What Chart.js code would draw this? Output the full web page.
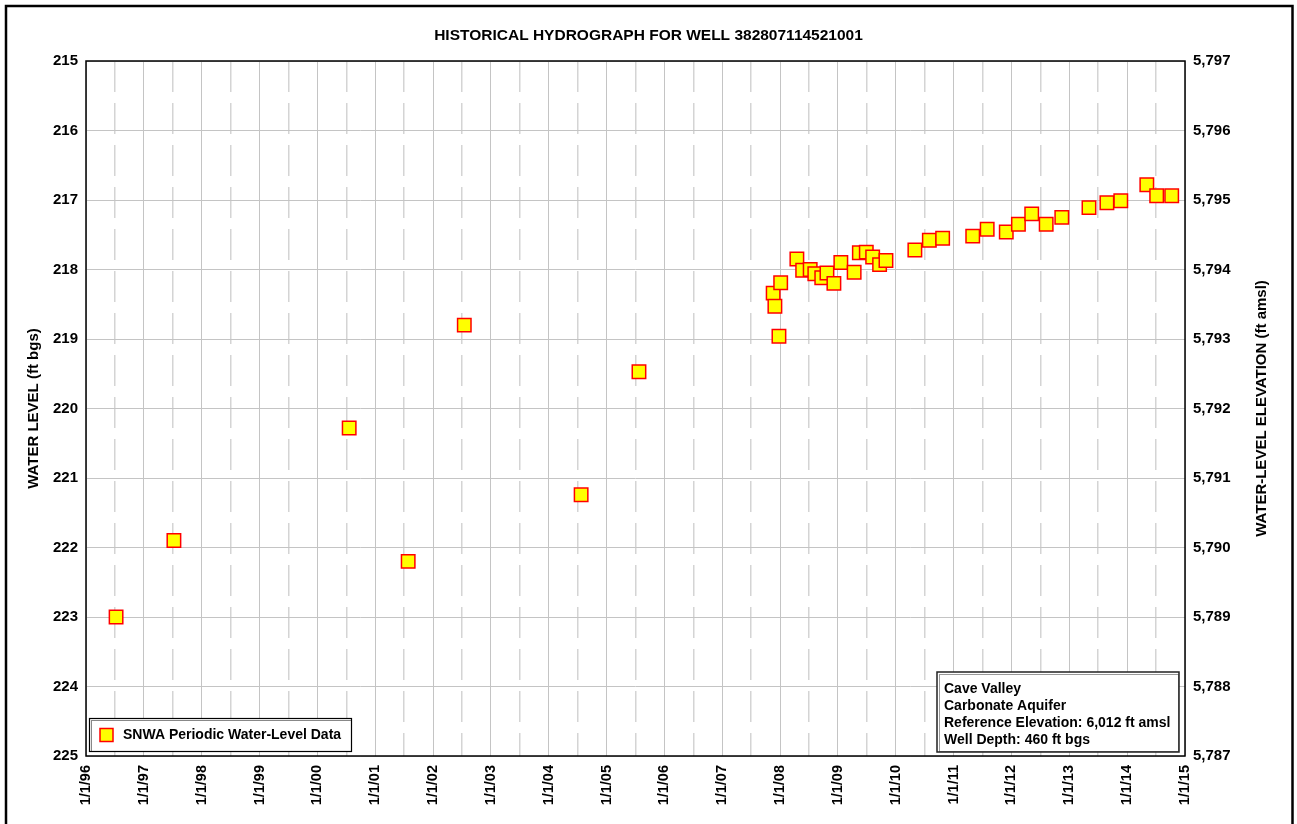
<!DOCTYPE html>
<html>
<head>
<meta charset="utf-8">
<script src="https://cdn.jsdelivr.net/npm/chart.js@4/dist/chart.umd.min.js"></script>
<style>
html,body{margin:0;padding:0;background:#fff;}
canvas{display:block;}
</style>
</head>
<body>
<canvas id="c" width="1297" height="824"></canvas>
<script>
// ---- data (decimal years, water level ft bgs) ----
const sampleDates = [
  1996.52, 1997.52, 2000.55, 2001.57, 2002.54, 2004.56, 2005.56,
  2007.88, 2007.91, 2007.98, 2008.01, 2008.29, 2008.39, 2008.52, 2008.60,
  2008.72, 2008.81, 2008.93, 2009.05, 2009.28, 2009.37, 2009.49, 2009.60,
  2009.72, 2009.83,
  2010.33, 2010.58, 2010.81, 2011.33, 2011.58, 2011.91, 2012.12, 2012.35,
  2012.60, 2012.87, 2013.34, 2013.65, 2013.89, 2014.34, 2014.51, 2014.77
];
const waterLevels = [
  223.00, 221.90, 220.28, 222.20, 218.80, 221.24, 219.47,
  218.34, 218.53, 218.96, 218.19, 217.85, 218.01, 218.00, 218.06,
  218.12, 218.05, 218.20, 217.90, 218.04, 217.76, 217.75, 217.82,
  217.93, 217.87,
  217.72, 217.58, 217.55, 217.52, 217.42, 217.46, 217.35, 217.20,
  217.35, 217.25, 217.11, 217.04, 217.01, 216.78, 216.94, 216.94
];
const yearTicks = [1996,1997,1998,1999,2000,2001,2002,2003,2004,2005,2006,2007,2008,2009,2010,2011,2012,2013,2014,2015];
const midYearTicks = yearTicks.slice(0, -1).map(y => y + 0.5);
const levelRange = [215, 225];
const elevationRange = [5787, 5797];
const titleText = 'HISTORICAL HYDROGRAPH FOR WELL 382807114521001';
const leftTitle = 'WATER LEVEL (ft bgs)';
const rightTitle = 'WATER-LEVEL ELEVATION (ft amsl)';
const seriesName = 'SNWA Periodic Water-Level Data';
const infoLines = ['Cave Valley', 'Carbonate Aquifer', 'Reference Elevation: 6,012 ft amsl', 'Well Depth: 460 ft bgs'];

const FAM = '"Liberation Sans", Arial, Helvetica, sans-serif';
const points = sampleDates.map((d, i) => ({x: d, y: waterLevels[i]}));

const deco = {
  id: 'deco',
  beforeDraw(chart) {
    const ctx = chart.ctx;
    ctx.save();
    ctx.fillStyle = '#fff';
    ctx.fillRect(0, 0, chart.width, chart.height);
    ctx.restore();
  },
  afterDraw(chart) {
    const ctx = chart.ctx;
    const a = chart.chartArea;
    ctx.save();
    // plot border
    ctx.strokeStyle = '#000';
    ctx.lineWidth = 1.5;
    ctx.strokeRect(a.left, a.top, a.right - a.left, a.bottom - a.top);
    // outer frame
    ctx.lineWidth = 2.5;
    ctx.strokeRect(6, 6, 1286.5, 900);

    // right axis title
    const y2 = chart.scales.y2;
    ctx.fillStyle = '#000';
    ctx.font = 'bold 15px ' + FAM;
    ctx.textAlign = 'center';
    ctx.textBaseline = 'middle';
    ctx.translate(1262, (y2.top + y2.bottom) / 2);
    ctx.rotate(-Math.PI / 2);
    ctx.fillText(rightTitle, 0, 0);
    ctx.setTransform(1, 0, 0, 1, 0, 0);

    // legend box
    const lx = a.left + 3, ly = a.bottom - 38, lw = 263, lh = 34;
    ctx.fillStyle = '#fff';
    ctx.fillRect(lx, ly, lw, lh);
    ctx.strokeStyle = '#888';
    ctx.lineWidth = 1;
    ctx.strokeRect(lx + 2.5, ly + 2.5, lw - 3, lh - 3);
    ctx.strokeStyle = '#000';
    ctx.lineWidth = 1.2;
    ctx.strokeRect(lx + 0.5, ly + 0.5, lw - 1, lh - 1);
    const mx = lx + 11, my = ly + 17;
    ctx.fillStyle = '#ffff00';
    ctx.fillRect(mx, my - 6.5, 13, 13);
    ctx.strokeStyle = '#ff0000';
    ctx.lineWidth = 1.5;
    ctx.strokeRect(mx, my - 6.5, 13, 13);
    ctx.fillStyle = '#000';
    ctx.font = 'bold 14px ' + FAM;
    ctx.textAlign = 'left';
    ctx.textBaseline = 'middle';
    ctx.fillText(seriesName, lx + 34, my);

    // info box
    const bx = 937, by = a.bottom - 84, bw = a.right - 6 - bx, bh = 80;
    ctx.fillStyle = '#fff';
    ctx.fillRect(bx, by, bw, bh);
    ctx.strokeStyle = '#999';
    ctx.lineWidth = 1;
    ctx.strokeRect(bx + 2.5, by + 2.5, bw - 3, bh - 3);
    ctx.strokeStyle = '#222';
    ctx.lineWidth = 1.5;
    ctx.strokeRect(bx, by, bw, bh);
    ctx.fillStyle = '#000';
    ctx.font = 'bold 14px ' + FAM;
    infoLines.forEach((t, i) => ctx.fillText(t, bx + 7, by + 17.5 + i * 16.8));
    ctx.restore();
  }
};

new Chart(document.getElementById('c'), {
  type: 'scatter',
  data: {
    datasets: [{
      label: seriesName,
      data: points,
      pointStyle: 'rect',
      pointRadius: 9.5,
      pointHoverRadius: 9.5,
      backgroundColor: '#ffff00',
      borderColor: '#ff0000',
      borderWidth: 1.5,
      xAxisID: 'x',
      yAxisID: 'y'
    }]
  },
  options: {
    responsive: false,
    animation: false,
    devicePixelRatio: 1,
    layout: {padding: 0},
    plugins: {
      legend: {display: false},
      tooltip: {enabled: false},
      title: {
        display: true,
        text: titleText,
        color: '#000',
        font: {family: FAM, size: 15.5, weight: 'bold'},
        padding: {top: 26, bottom: 16.4}
      }
    },
    scales: {
      x: {
        type: 'linear', position: 'bottom',
        min: yearTicks[0], max: yearTicks[yearTicks.length - 1],
        afterBuildTicks: s => { s.ticks = yearTicks.map(v => ({value: v})); },
        ticks: {
          color: '#000', font: {family: FAM, size: 14.5, weight: 'bold'},
          minRotation: 90, maxRotation: 90, autoSkip: false, padding: 9,
          callback: v => '1/1/' + String(Math.round(v)).slice(2)
        },
        grid: {color: '#c4c4c4', lineWidth: 1, drawTicks: false},
        border: {display: false},
        afterFit: s => { s.height = 68; }
      },
      x2: {
        type: 'linear', position: 'bottom',
        min: yearTicks[0], max: yearTicks[yearTicks.length - 1],
        afterBuildTicks: s => { s.ticks = midYearTicks.map(v => ({value: v})); },
        ticks: {display: false},
        grid: {color: '#d4d4d4', lineWidth: 1.5, drawTicks: false},
        border: {display: false, dash: [31, 11]},
        afterFit: s => { s.height = 0; }
      },
      y: {
        type: 'linear', position: 'left', reverse: true,
        min: levelRange[0], max: levelRange[1],
        ticks: {stepSize: 1, color: '#000', font: {family: FAM, size: 15, weight: 'bold'}, padding: 8},
        grid: {color: '#c4c4c4', lineWidth: 1, drawTicks: false},
        border: {display: false},
        title: {display: true, text: leftTitle, color: '#000', font: {family: FAM, size: 15, weight: 'bold'}, padding: {top: 25, bottom: 0}},
        afterFit: s => { s.width = 86; }
      },
      y2: {
        type: 'linear', position: 'right',
        min: elevationRange[0], max: elevationRange[1],
        ticks: {
          stepSize: 1, color: '#000', font: {family: FAM, size: 15, weight: 'bold'}, padding: 8,
          callback: v => Math.round(v).toLocaleString('en-US')
        },
        grid: {drawOnChartArea: false, drawTicks: false},
        border: {display: false},
        afterFit: s => { s.width = 112; }
      }
    }
  },
  plugins: [deco]
});
</script>
</body>
</html>
